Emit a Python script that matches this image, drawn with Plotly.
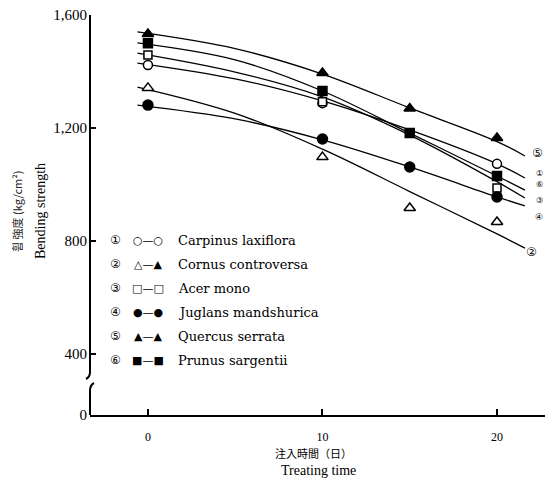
import plotly.graph_objects as go

# ---------------- data ----------------
species = ["Carpinus laxiflora", "Cornus controversa", "Acer mono",
           "Juglans mandshurica", "Quercus serrata", "Prunus sargentii"]
numbers = ["①", "②", "③", "④", "⑤", "⑥"]
legend_syms = ["○—○", "△—▲", "□—□", "●—●", "▲—▲", "■—■"]

point_days = [0, 10, 15, 20]
carpinus_pts = [1423, 1288, None, 1073]
cornus_pts = [1342, 1097, 917, 867]
acer_pts = [1458, 1293, None, 988]
juglans_pts = [1281, 1161, 1062, 956]
quercus_pts = [1533, 1395, 1269, 1165]
prunus_pts = [1500, 1331, 1182, 1030]

curve_days = [-0.6, 5, 10, 15, 20, 21.6]
carpinus_curve = [1430, 1374, 1296, 1193, 1073, 1023]
cornus_curve = [1345, 1252, 1125, 975, 825, 775]
acer_curve = [1465, 1398, 1310, 1175, 1010, 952]
juglans_curve = [1281, 1232, 1158, 1062, 956, 924]
quercus_curve = [1540, 1481, 1391, 1271, 1152, 1101]
prunus_curve = [1501, 1441, 1331, 1182, 1030, 980]

x_ticks = [0, 10, 20]
y_tick_vals = [184, 400, 800, 1200, 1600]   # 184 = position of broken-axis "0"
y_tick_text = ["0", "400", "800", "1,200", "1,600"]

pts = [carpinus_pts, cornus_pts, acer_pts, juglans_pts, quercus_pts, prunus_pts]
curves = [carpinus_curve, cornus_curve, acer_curve, juglans_curve, quercus_curve, prunus_curve]
symbols = ["circle", "triangle-up", "square", "circle", "triangle-up", "square"]
fills = ["white", "white", "white", "black", "black", "black"]
sizes = [9, 10, 8, 10, 10, 9]

W, H = 550, 481
L, R, T, B = 90, 5, 15, 66


def pxx(x):
    return (x - L) / (W - L - R)


def pxy(y):
    return (H - B - y) / (H - T - B)


fig = go.Figure()

for c in curves:
    fig.add_trace(go.Scatter(x=curve_days, y=c, mode="lines", line=dict(color="black", width=1.3, shape="spline"),
                             showlegend=False, hoverinfo="skip"))
for p, s, f, sz in zip(pts, symbols, fills, sizes):
    fig.add_trace(go.Scatter(x=point_days, y=p, mode="markers",
                             marker=dict(symbol=s, size=sz, color=f, line=dict(color="black", width=1.5)),
                             showlegend=False))

serif = "Liberation Serif"
ann = []
# legend
rows = [240, 264, 288, 312, 336, 360]
for i in range(6):
    ann.append(dict(x=pxx(115), y=pxy(rows[i]), xref="paper", yref="paper", text=numbers[i], showarrow=False,
                    font=dict(family="DejaVu Sans", size=12, color="black"), xanchor="center", yanchor="middle"))
    ann.append(dict(x=pxx(148), y=pxy(rows[i]), xref="paper", yref="paper", text=legend_syms[i], showarrow=False,
                    font=dict(family="DejaVu Sans", size=11, color="black"), xanchor="center", yanchor="middle"))
    ann.append(dict(x=pxx(176), y=pxy(rows[i]), xref="paper", yref="paper", text=species[i], showarrow=False,
                    font=dict(family="DejaVu Serif", size=13, color="black"), xanchor="left", yanchor="middle"))

# curve end labels
end_labels = [("⑤", 537, 153, 12), ("②", 531, 252, 12), ("①", 539, 173, 8), ("⑥", 539, 184, 8),
              ("③", 539, 200, 8), ("④", 539, 217, 9)]
for t, x, y, s in end_labels:
    ann.append(dict(x=pxx(x), y=pxy(y), xref="paper", yref="paper", text=t, showarrow=False,
                    font=dict(family="DejaVu Sans", size=s, color="black"), xanchor="center", yanchor="middle"))

# axis titles
ann.append(dict(x=pxx(313), y=pxy(453), xref="paper", yref="paper", text="注入時間（日）", showarrow=False,
                font=dict(family="Noto Sans CJK JP", size=11, color="black"), xanchor="center", yanchor="middle"))
ann.append(dict(x=pxx(318), y=pxy(470), xref="paper", yref="paper", text="Treating time", showarrow=False,
                font=dict(family=serif, size=14, color="black"), xanchor="center", yanchor="middle"))
ann.append(dict(x=pxx(17), y=pxy(212), xref="paper", yref="paper", text="휨 強度 (kg/cm²)", showarrow=False,
                textangle=-90, font=dict(family="Noto Sans CJK KR", size=11, color="#222"),
                xanchor="center", yanchor="middle"))
ann.append(dict(x=pxx(40), y=pxy(211), xref="paper", yref="paper", text="Bending strength", showarrow=False,
                textangle=-90, font=dict(family=serif, size=14, color="black"),
                xanchor="center", yanchor="middle"))

shapes = [
    # broken y axis
    dict(type="path", xref="paper", yref="paper",
         path=f"M 0 1 L 0 {pxy(372)} Q 0 {pxy(377)} {pxx(86)} {pxy(379)}",
         line=dict(color="black", width=2)),
    dict(type="path", xref="paper", yref="paper",
         path=f"M {pxx(94)} {pxy(383)} Q 0 {pxy(385)} 0 {pxy(391)} L 0 0",
         line=dict(color="black", width=2)),
]

fig.update_layout(
    width=W, height=H, margin=dict(l=L, r=R, t=T, b=B),
    paper_bgcolor="white", plot_bgcolor="white",
    annotations=ann, shapes=shapes,
    xaxis=dict(range=[-3.32, 22.75], tickvals=x_ticks, ticks="inside", ticklen=6, tickwidth=1.5,
               tickcolor="black", showline=True, linecolor="black", linewidth=2, showgrid=False,
               zeroline=False, ticklabelstandoff=10, tickfont=dict(family=serif, size=12, color="black")),
    yaxis=dict(range=[184, 1600], tickvals=y_tick_vals, ticktext=y_tick_text, ticks="inside", ticklen=6,
               tickwidth=1.5, tickcolor="black", showline=False, showgrid=False, zeroline=False,
               ticklabelstandoff=2, tickfont=dict(family=serif, size=15, color="black")),
)

fig.write_html("out.html")
